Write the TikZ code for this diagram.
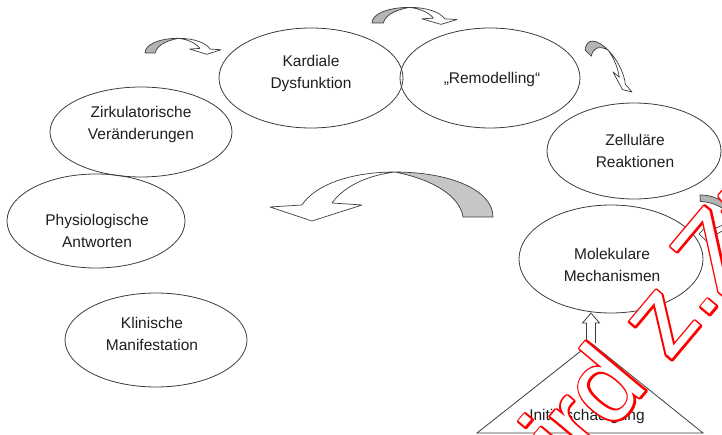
\documentclass[tikz,border=0pt]{standalone}
\usepackage{fontspec}
\setmainfont{Liberation Sans}
\usetikzlibrary{shapes.geometric,calc}
\definecolor{ink}{HTML}{1E1E1E}
\definecolor{edge}{HTML}{3C3C3C}
\definecolor{agray}{HTML}{C6C6C6}
\definecolor{sgray}{HTML}{B4B4B4}
\newcommand{\hollowtext}[1]{%
  \rlap{\special{pdf:literal direct 1 Tr 1 0 0 RG 4 w 1 j}#1\special{pdf:literal direct 0 Tr}}%
  \textcolor{white}{#1}}
\newcommand{\carrowshape}[1]{%
  \filldraw[fill=#1,draw=edge,line width=0.7pt,line join=round]
    (0,0) .. controls (0,0.551) and (0.193,0.918) .. (0.4395,0.918)
    .. controls (0.260,0.755) and (0.148,0.408) .. (0.1345,0) -- cycle;
  \filldraw[fill=white,draw=edge,line width=0.7pt,line join=round]
    (0.4395,0.918) .. controls (0.641,0.918) and (0.798,0.653) .. (0.857,0.245)
    -- (1,0.204) -- (0.812,-0.082) -- (0.587,0.245) -- (0.722,0.286)
    .. controls (0.664,0.653) and (0.552,0.857) .. (0.4395,0.918) -- cycle;}
\begin{document}
\begin{tikzpicture}[x=1pt,y=-1pt,
  oval/.style={draw=edge,line width=0.8pt,ellipse,inner sep=0pt,outer sep=0pt},
  lbl/.style={text=ink,font=\fontsize{15.5}{22}\selectfont,align=center,inner sep=0pt}]
\useasboundingbox (0,0) rectangle (722,435);
\clip (0,0) rectangle (722,435);

% ellipses
\node[oval,minimum width=184pt,minimum height=100pt] (kd) at (311,78) {};
\node[oval,minimum width=180pt,minimum height=100pt] (rm) at (490,78) {};
\node[oval,minimum width=174pt,minimum height=96pt] (zr) at (634,151) {};
\node[oval,minimum width=184pt,minimum height=108pt] (mm) at (611,259) {};
\node[oval,minimum width=182pt,minimum height=90pt] (zv) at (141,132) {};
\node[oval,minimum width=178pt,minimum height=94pt] (pa) at (96,221) {};
\node[oval,minimum width=182pt,minimum height=94pt] (km) at (156,340) {};

% labels
\node[lbl] (kdt) at (311,73) {Kardiale\\Dysfunktion};
\node[lbl] (rmt) at (492,79) {„Remodelling“};
\node[lbl] (zrt) at (635,151) {Zelluläre\\Reaktionen};
\node[lbl] (mmt) at (612,265) {Molekulare\\Mechanismen};
\node[lbl] (zvt) at (141,124) {Zirkulatorische\\Veränderungen};
\node[lbl] (pat) at (97,231) {Physiologische\\Antworten};
\node[lbl] (kmt) at (152,334) {Klinische\\Manifestation};

% triangle
\coordinate (apex) at (591,343);
\coordinate (bl) at (477,433);
\coordinate (br) at (703,433);
\draw[edge,line width=0.8pt] (apex) -- (bl) -- (br) -- cycle;
\node[lbl,anchor=base] (init) at (587,420) {Initialschädigung};

% block arrow from triangle to Molekulare Mechanismen
\coordinate (tip) at (apex |- mm.south);
\filldraw[fill=white,draw=edge,line width=0.8pt,line join=miter]
  ($(apex)+(-4.5,0)$) -- ($(tip)+(-4.5,10)$) -- ($(tip)+(-8.5,10)$) -- (tip)
  -- ($(tip)+(8.5,10)$) -- ($(tip)+(4.5,10)$) -- ($(apex)+(4.5,0)$);

% big curved arrow
\begin{scope}[shift={(493,217)},x={(-223pt,0pt)},y={(0pt,49pt)}]
  \carrowshape{agray}
\end{scope}
% small curved arrows
\begin{scope}[shift={(145,53)},x={(76pt,0pt)},y={(0pt,16pt)}]
  \carrowshape{sgray}
\end{scope}
\begin{scope}[shift={(372,23)},x={(85pt,0pt)},y={(0pt,17pt)}]
  \carrowshape{sgray}
\end{scope}
\begin{scope}[shift={(585,50)},x={(46.4pt,-46.5pt)},y={(2.8pt,22.3pt)}]
  \carrowshape{sgray}
\end{scope}
\begin{scope}[shift={(700,195)},x={(2pt,-48pt)},y={(32pt,0pt)}]
  \carrowshape{sgray}
\end{scope}

% watermark
\node[rotate=50,anchor=base west,inner sep=0pt,font=\fontsize{107}{107}\selectfont] (wm) at (524,536)
  {\hollowtext{wird z.Zt.}};
\end{tikzpicture}
\end{document}
